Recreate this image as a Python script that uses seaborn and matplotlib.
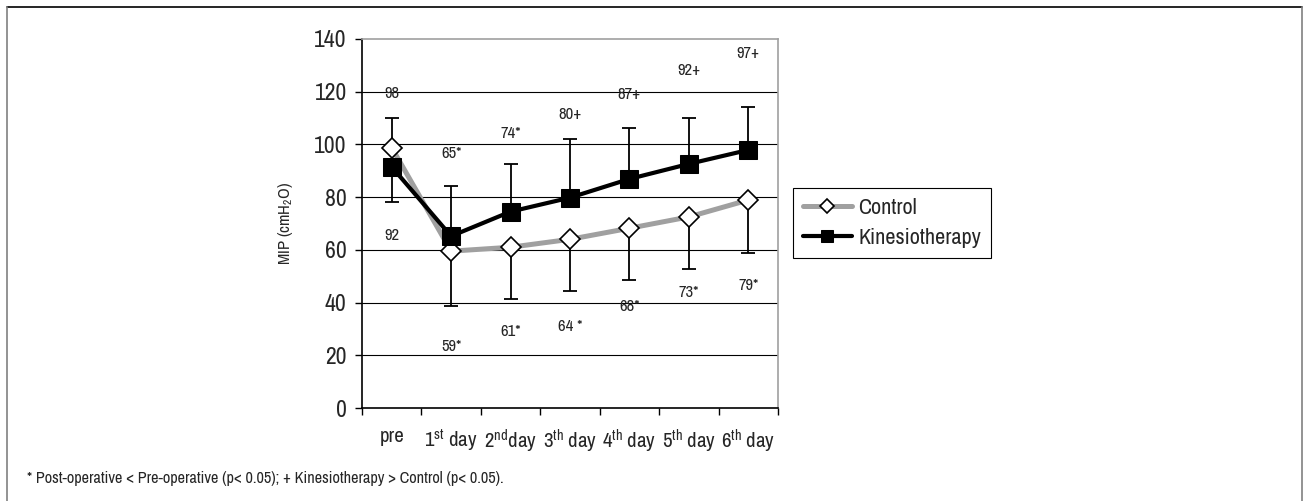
import numpy as np
import pandas as pd
import seaborn as sns
import matplotlib.pyplot as plt
from matplotlib.lines import Line2D

days = ['pre', '1$^{st}$ day', '2$^{nd}$day', '3$^{th}$ day', '4$^{th}$ day', '5$^{th}$ day', '6$^{th}$ day']
control = [98.8, 59.5, 61.0, 64.0, 68.2, 72.5, 78.9]
kinesio = [91.5, 65.2, 74.5, 79.8, 86.9, 92.6, 97.9]
# error bar ends (one-sided whiskers)
control_whisker = [110.0, 38.8, 41.2, 44.4, 48.4, 52.6, 58.7]
kinesio_whisker = [78.3, 84.3, 92.7, 101.9, 106.3, 109.9, 114.2]

# printed means and their heights
top_labels = ['98', '65*', '74*', '80+', '87+', '92+', '97+']
top_label_y = [119.5, 96.7, 104.3, 111.2, 119.1, 128.2, 134.5]
bottom_labels = ['92', '59*', '61*', '64 *', '68*', '73*', '79*']
bottom_label_y = [65.6, 23.3, 28.9, 30.9, 38.7, 43.7, 46.3]

footnote = '* Post-operative < Pre-operative (p< 0.05); + Kinesiotherapy > Control (p< 0.05).'

sns.set_style('white')
narrow = 'Archivo Narrow'
plt.rcParams['font.family'] = [narrow, 'Roboto Condensed', 'DejaVu Sans']
plt.rcParams['mathtext.fontset'] = 'custom'
plt.rcParams['mathtext.rm'] = narrow
plt.rcParams['mathtext.it'] = narrow
plt.rcParams['mathtext.default'] = 'rm'

df = pd.DataFrame({'x': np.arange(len(days)), 'control': control, 'kinesio': kinesio,
                   'c_w': control_whisker, 'k_w': kinesio_whisker})

fig = plt.figure(figsize=(13.03, 5.01), dpi=100)
ax = fig.add_axes([0.2778, 0.1856, 0.3193, 0.7366])

# error bars, one side each
for col, wcol in [('control', 'c_w'), ('kinesio', 'k_w')]:
    diff = df[wcol] - df[col]
    lower = np.clip(-diff, 0, None)
    upper = np.clip(diff, 0, None)
    ax.errorbar(df['x'], df[col], yerr=[lower, upper], fmt='none', ecolor='black',
                elinewidth=1.3, capsize=5, capthick=1.3, zorder=2)

sns.lineplot(data=df, x='x', y='control', ax=ax, color='#a0a0a0', lw=3.6,
             marker='D', markersize=10, markerfacecolor='white', markeredgecolor='black',
             markeredgewidth=1.2, label='Control', zorder=3)
sns.lineplot(data=df, x='x', y='kinesio', ax=ax, color='black', lw=3,
             marker='s', markersize=13, markerfacecolor='black', markeredgecolor='black',
             label='Kinesiotherapy', zorder=4)

for i in range(len(days)):
    ax.text(i, top_label_y[i], top_labels[i], ha='center', va='center', fontsize=12)
    ax.text(i, bottom_label_y[i], bottom_labels[i], ha='center', va='center', fontsize=12)

ax.set_xlim(-0.5, len(days) - 0.5)
ax.set_ylim(0, 140)
ax.set_yticks(np.arange(0, 141, 20))
ax.hlines(np.arange(20, 121, 20), -0.5, len(days) - 0.5, colors='black', lw=0.8, zorder=1)

ax.set_xticks(np.arange(len(days)))
ax.set_xticklabels(days, fontsize=15)
ax.set_xticks(np.arange(len(days) + 1) - 0.5, minor=True)
ax.tick_params(axis='x', which='major', length=0, pad=14)
ax.tick_params(axis='x', which='minor', length=5, width=1, color='black', direction='out')
ax.tick_params(axis='y', length=5, width=1, color='black', direction='out', labelsize=17, pad=6)
ax.tick_params(left=True, bottom=True, which='both')

ax.set_xlabel('')
ax.set_ylabel('MIP (cmH$_2$O)', fontsize=12, labelpad=14)

for s in ['left', 'bottom']:
    ax.spines[s].set_color('black')
    ax.spines[s].set_linewidth(1.2)
for s in ['top', 'right']:
    ax.spines[s].set_color('#a0a0a0')
    ax.spines[s].set_linewidth(1.2)

ax.legend(loc='upper left', bbox_to_anchor=(0.6086, 0.6248), bbox_transform=fig.transFigure,
          borderaxespad=0, frameon=True, fancybox=False, edgecolor='black', framealpha=1,
          fontsize=16, handlelength=2.2, handletextpad=0.3, borderpad=0.45, labelspacing=0.45,
          markerscale=0.7)
ax.get_legend().get_frame().set_linewidth(0.8)

# outer frame
fig.add_artist(Line2D([0.0054, 0.9992], [0.986, 0.986], color='black', lw=1.2, transform=fig.transFigure))
fig.add_artist(Line2D([0.0054, 0.0054], [0.0, 0.986], color='#808080', lw=1.2, transform=fig.transFigure))
fig.add_artist(Line2D([0.9992, 0.9992], [0.0, 0.986], color='#808080', lw=1.2, transform=fig.transFigure))

fig.text(0.0207, 0.044, footnote, fontsize=11.7, va='center', ha='left')

fig.savefig('out.png', dpi=100)
